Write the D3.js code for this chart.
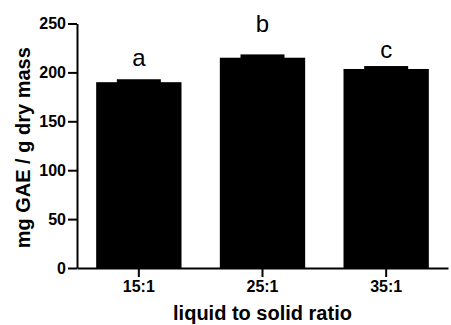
<!DOCTYPE html>
<html>
<head>
<meta charset="utf-8">
<script src="https://cdn.jsdelivr.net/npm/d3@7"></script>
<style>
  body { margin: 0; background: #fff; }
  svg { display: block; font-family: "Liberation Sans", Arial, sans-serif; }
</style>
</head>
<body>
<svg id="chart" width="451" height="325"></svg>
<script>
// values
var ratios = ["15:1", "25:1", "35:1"];
var means = [190, 215, 203.5];
var sds = [3, 3.4, 3];
var letters = ["a", "b", "c"];
var letterAt = [207, 241, 215];   // where the letter baseline sits, in y units
var yTicks = [0, 50, 100, 150, 200, 250];

var svg = d3.select("#chart");
var plotLeft = 77, plotRight = 448, plotTop = 23.5, plotBottom = 268;

var x = d3.scaleBand().domain(ratios).range([plotLeft, plotRight])
        .paddingInner(0.31).paddingOuter(0.155);
var y = d3.scaleLinear().domain([0, 250]).range([plotBottom, plotTop]);

var rows = ratios.map(function(r, i) {
    return { name: r, mean: means[i], sd: sds[i], letter: letters[i], at: letterAt[i] };
});

// bars
svg.selectAll("rect.bar").data(rows).enter().append("rect")
    .attr("class", "bar")
    .attr("x", function(d) { return x(d.name); })
    .attr("width", x.bandwidth())
    .attr("y", function(d) { return y(d.mean); })
    .attr("height", function(d) { return y(0) - y(d.mean); })
    .attr("fill", "#000");

// error caps: upper half only, black on black so they show as a small step
var capW = 44;
svg.selectAll("rect.cap").data(rows).enter().append("rect")
    .attr("class", "cap")
    .attr("x", function(d) { return x(d.name) + x.bandwidth() / 2 - capW / 2; })
    .attr("width", capW)
    .attr("y", function(d) { return y(d.mean + d.sd); })
    .attr("height", function(d) { return y(d.mean) - y(d.mean + d.sd) + 1; })
    .attr("fill", "#000");

// significance letters
svg.selectAll("text.letter").data(rows).enter().append("text")
    .attr("class", "letter")
    .attr("x", function(d) { return x(d.name) + x.bandwidth() / 2; })
    .attr("y", function(d) { return y(d.at); })
    .attr("text-anchor", "middle")
    .style("font-size", "24px")
    .text(function(d) { return d.letter; });

// axes
var yAxis = d3.axisLeft(y).tickValues(yTicks).tickSize(9).tickSizeOuter(0).tickPadding(2);
var gy = svg.append("g").attr("transform", "translate(" + plotLeft + ",0)").call(yAxis);

var xAxis = d3.axisBottom(x).tickSize(9).tickSizeOuter(0).tickPadding(4);
var gx = svg.append("g").attr("transform", "translate(0," + plotBottom + ")").call(xAxis);

[gy, gx].forEach(function(g) {
    g.selectAll("path, line").attr("stroke", "#000").attr("stroke-width", 2);
    g.selectAll("text").attr("fill", "#000")
        .style("font-size", "16px").style("font-weight", "bold")
        .style("font-family", "'Liberation Sans', Arial, sans-serif");
});

// axis titles
svg.append("text")
    .attr("transform", "translate(30," + ((plotTop + plotBottom) / 2 + 2) + ") rotate(-90)")
    .attr("text-anchor", "middle")
    .style("font-size", "20px").style("font-weight", "bold")
    .text("mg GAE / g dry mass");

svg.append("text")
    .attr("x", (plotLeft + plotRight) / 2)
    .attr("y", 320)
    .attr("text-anchor", "middle")
    .style("font-size", "20px").style("font-weight", "bold")
    .text("liquid to solid ratio");
</script>
</body>
</html>
